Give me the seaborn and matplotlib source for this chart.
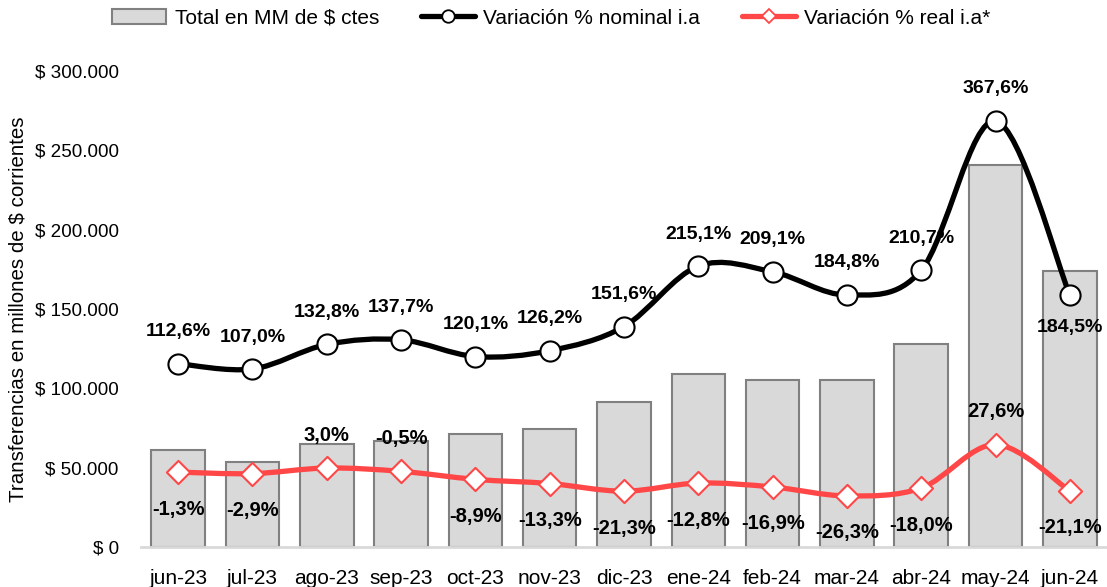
import numpy as np
import pandas as pd
import seaborn as sns
import matplotlib.pyplot as plt
from matplotlib.path import Path
from matplotlib.patches import PathPatch, Patch
from matplotlib.lines import Line2D

months = ["jun-23", "jul-23", "ago-23", "sep-23", "oct-23", "nov-23", "dic-23",
          "ene-24", "feb-24", "mar-24", "abr-24", "may-24", "jun-24"]
total_mm = [61100, 53800, 65100, 67000, 71000, 74200, 91200,
            109000, 105200, 105200, 127900, 240500, 174100]
var_nominal = [112.6, 107.0, 132.8, 137.7, 120.1, 126.2, 151.6,
               215.1, 209.1, 184.8, 210.7, 367.6, 184.5]
var_real = [-1.3, -2.9, 3.0, -0.5, -8.9, -13.3, -21.3,
            -12.8, -16.9, -26.3, -18.0, 27.6, -21.1]
# label above (+1) or below (-1) the point
nominal_side = [1] * 12 + [-1]
real_side = [-1, -1, 1, 1, -1, -1, -1, -1, -1, -1, -1, 1, -1]

BAR_FILL = "#D9D9D9"
BAR_EDGE = "#808080"
RED = "#FF4747"

sns.set_theme(style="white")
plt.rcParams["font.family"] = ["Liberation Sans", "DejaVu Sans"]
for key in ["text.color", "axes.labelcolor", "xtick.color", "ytick.color"]:
    plt.rcParams[key] = "black"

df = pd.DataFrame({"mes": months, "total": total_mm,
                   "nominal": var_nominal, "real": var_real})
df["pos"] = np.arange(len(df))


def smooth_path(xs, ys):
    # excel-like smoothed line: cubic bezier through the points
    pts = np.column_stack([xs, ys]).astype(float)
    n = len(pts)
    verts = [pts[0]]
    codes = [Path.MOVETO]
    for i in range(n - 1):
        p0 = pts[max(i - 1, 0)]
        p1 = pts[i]
        p2 = pts[i + 1]
        p3 = pts[min(i + 2, n - 1)]
        c1 = p1 + (p2 - p0) / 6
        c2 = p2 - (p3 - p1) / 6
        verts += [c1, c2, p2]
        codes += [Path.CURVE4] * 3
    return Path(verts, codes)


fig, ax = plt.subplots(figsize=(11.07, 5.87), dpi=100)
fig.subplots_adjust(left=0.1274, right=1.0, bottom=0.0681, top=0.879)

sns.barplot(data=df, x="mes", y="total", color=BAR_FILL, edgecolor=BAR_EDGE,
            linewidth=1.5, width=0.72, saturation=1, ax=ax)
ax.set_xlim(-0.5, len(months) - 0.5)
ax.set_ylim(0, 300000)
ax.set_yticks(np.arange(0, 300001, 50000))
ax.set_yticklabels(["$ " + f"{int(v):,}".replace(",", ".") for v in ax.get_yticks()],
                   fontsize=13.6)
ax.tick_params(axis="y", length=0, pad=16)
ax.tick_params(axis="x", length=0, pad=16, labelsize=15)
ax.set_xlabel("")
ax.set_ylabel("Transferencias en millones de $ corrientes", fontsize=14.8)
ax.yaxis.set_label_coords(-0.118, 0.5)
for s in ["top", "right", "left"]:
    ax.spines[s].set_visible(False)
ax.spines["bottom"].set_color("#D9D9D9")
ax.spines["bottom"].set_linewidth(2)

ax2 = ax.twinx()
ax2.set_ylim(-80, 420)
ax2.axis("off")

ax2.add_patch(PathPatch(smooth_path(df["pos"], df["nominal"]), fill=False,
                        edgecolor="black", linewidth=3.8, capstyle="round", zorder=3))
ax2.add_patch(PathPatch(smooth_path(df["pos"], df["real"]), fill=False,
                        edgecolor=RED, linewidth=3.8, capstyle="round", zorder=3))

sns.scatterplot(data=df, x="pos", y="nominal", marker="o", s=210, color="white",
                edgecolor="black", linewidth=1.5, zorder=4, ax=ax2, legend=False)
sns.scatterplot(data=df, x="pos", y="real", marker="D", s=140, color="white",
                edgecolor=RED, linewidth=1.5, zorder=4, ax=ax2, legend=False)
ax2.set_xlim(-0.5, len(months) - 0.5)

for x, v, side in zip(df["pos"], var_nominal, nominal_side):
    ax2.annotate(f"{v:.1f}%".replace(".", ","), (x, v), xytext=(0, 32 * side),
                 textcoords="offset pixels", ha="center", va="center",
                 fontsize=14, fontweight="bold", annotation_clip=False, zorder=5)
for x, v, side in zip(df["pos"], var_real, real_side):
    off = 33 if side > 0 else -37
    ax2.annotate(f"{v:.1f}%".replace(".", ","), (x, v), xytext=(0, off),
                 textcoords="offset pixels", ha="center", va="center",
                 fontsize=14.5, fontweight="bold", annotation_clip=False, zorder=5)

handles = [
    Patch(facecolor=BAR_FILL, edgecolor=BAR_EDGE, linewidth=1.5),
    Line2D([], [], color="black", lw=3.8, marker="o", ms=9, mfc="white",
           mec="black", mew=1.3),
    Line2D([], [], color=RED, lw=3.8, marker="D", ms=7, mfc="white",
           mec=RED, mew=1.3),
]
labels = ["Total en MM de $ ctes", "Variación % nominal i.a", "Variación % real i.a*"]
fig.legend(handles, labels, loc="center", bbox_to_anchor=(0.498, 0.969), ncol=3,
           frameon=False, fontsize=15, handlelength=2.6, handletextpad=0.4,
           columnspacing=2.0)

fig.savefig("out.png", dpi=100)
plt.close(fig)
